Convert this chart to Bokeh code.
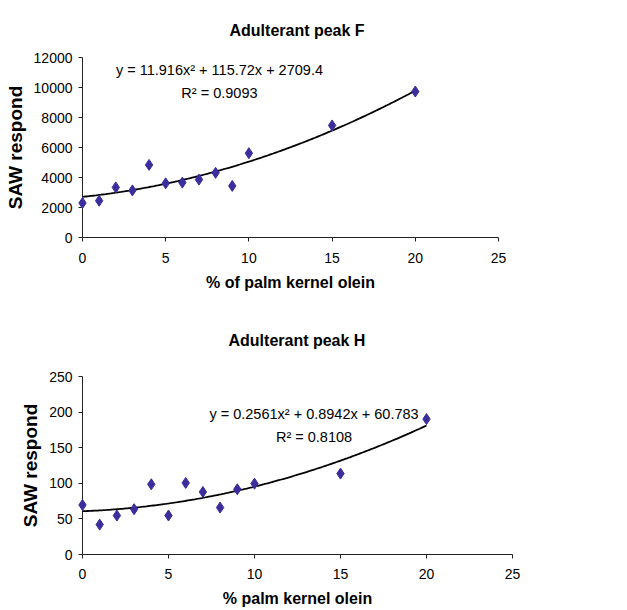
import numpy as np
from bokeh.plotting import figure
from bokeh.layouts import column
from bokeh.models import Range1d, SingleIntervalTicker, Label
from bokeh.embed import file_html
from bokeh.resources import INLINE

# ---- data ----
pct = [0, 1, 2, 3, 4, 5, 6, 7, 8, 9, 10, 15, 20]
peak_f = [2300, 2450, 3340, 3140, 4840, 3610, 3660, 3860, 4310, 3440, 5620, 7470, 9730]
peak_h = [69.6, 42, 54.7, 63.6, 98.6, 54.7, 100.5, 87.9, 65.9, 91.6, 99.5, 113.6, 190.2]
coef_f = [11.916, 115.72, 2709.4]
coef_h = [0.2561, 0.8942, 60.783]
eq_f = ["y = 11.916x² + 115.72x + 2709.4", "R² = 0.9093"]
eq_h = ["y = 0.2561x² + 0.8942x + 60.783", "R² = 0.8108"]
titles = ["Adulterant peak F", "Adulterant peak H"]
xlabels = ["% of palm kernel olein", "% palm kernel olein"]
ylabel = "SAW respond"

FONT = "Liberation Sans"
MARK = "#3A2E9C"


def make(title, xlabel, y, coef, eq, yend, ystep, fw, fh, top, bottom, eqx, eqy,
         title_standoff, title_offset, xtick_standoff, xlabel_standoff):
    p = figure(frame_width=fw, frame_height=fh, output_backend="svg",
               toolbar_location=None, x_range=Range1d(0, 25), y_range=Range1d(0, yend),
               min_border_left=82, min_border_right=611 - 82 - fw,
               min_border_top=top, min_border_bottom=bottom)
    p.title.text = title
    p.title.align = "left"
    p.title.offset = title_offset
    p.title.text_font = FONT
    p.title.text_font_size = "16px"
    p.title.text_font_style = "bold"
    p.title.text_color = "black"
    p.title.standoff = title_standoff
    p.outline_line_color = None
    p.xgrid.visible = False
    p.ygrid.visible = False
    p.background_fill_color = "white"
    p.border_fill_color = "white"

    p.xaxis.ticker = SingleIntervalTicker(interval=5, num_minor_ticks=0)
    p.yaxis.ticker = SingleIntervalTicker(interval=ystep, num_minor_ticks=0)
    for ax in (p.xaxis, p.yaxis):
        ax.axis_line_color = "#222222"
        ax.major_tick_line_color = "#222222"
        ax.major_tick_out = 4
        ax.major_tick_in = 0
        ax.minor_tick_line_color = None
        ax.major_label_text_font = FONT
        ax.major_label_text_font_size = "14px"
        ax.major_label_text_color = "black"
        ax.axis_label_text_font = FONT
        ax.axis_label_text_font_style = "bold"
        ax.axis_label_text_color = "black"
    p.xaxis.axis_label = xlabel
    p.xaxis.axis_label_text_font_size = "16px"
    p.yaxis.axis_label = ylabel
    p.yaxis.axis_label_text_font_size = "19px"
    p.xaxis.major_label_standoff = xtick_standoff
    p.xaxis.axis_label_standoff = xlabel_standoff
    p.yaxis.major_label_standoff = 6

    xs = np.linspace(0, 20, 200)
    ys = np.polyval(coef, xs)
    p.line(xs, ys, line_color="black", line_width=1.8)
    r = p.scatter(pct, y, marker="diamond", size=11, fill_color=MARK, line_color=MARK)
    r.level = "overlay"

    for txt, yy in zip(eq, eqy):
        p.add_layout(Label(x=eqx, y=yy, text=txt, text_align="center", text_baseline="middle",
                           text_font=FONT, text_font_size="14.5px", text_color="black"))
    return p


p1 = make(titles[0], xlabels[0], peak_f, coef_f, eq_f, 12000, 2000, 416, 180, 57, 63,
          8.23, (11150, 9610), 38, 147, 11, 8)
p2 = make(titles[1], xlabels[1], peak_h, coef_h, eq_h, 250, 50, 430, 178, 76, 50,
          13.46, (198, 164.5), 56, 146, 10, 8)

layout = column(p1, p2, spacing=0)
open("out.html", "w").write(file_html(layout, INLINE))
